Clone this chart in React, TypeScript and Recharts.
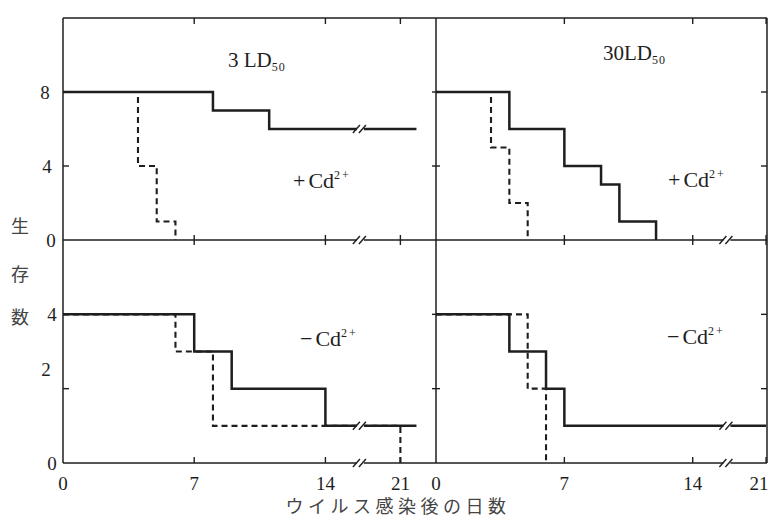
import React from 'react';
import { LineChart, Line, XAxis, YAxis, ReferenceDot } from 'recharts';

const dayTicks = [0, 7, 14, 21];
const topTicks = [0, 4, 8];
const bottomTicks = [0, 2, 4];

const ld3CdSolidDays = [0, 8, 11, 22.5];
const ld3CdSolidAlive = [8, 7, 6, 6];
const ld3CdDashDays = [0, 4, 5, 6];
const ld3CdDashAlive = [8, 4, 1, 0];

const ld30CdSolidDays = [0, 4, 7, 9, 10, 12];
const ld30CdSolidAlive = [8, 6, 4, 3, 1, 0];
const ld30CdDashDays = [0, 3, 4, 5];
const ld30CdDashAlive = [8, 5, 2, 0];

const ld3NoCdSolidDays = [0, 7, 9, 14, 22.5];
const ld3NoCdSolidAlive = [4, 3, 2, 1, 1];
const ld3NoCdDashDays = [0, 6, 8, 21];
const ld3NoCdDashAlive = [4, 3, 1, 0];

const ld30NoCdSolidDays = [0, 4, 6, 7, 21];
const ld30NoCdSolidAlive = [4, 3, 2, 1, 1];
const ld30NoCdDashDays = [0, 5, 6];
const ld30NoCdDashAlive = [4, 2, 0];

const doseLabels = ['3 LD', '30LD'];
const yTitle = ['生', '存', '数'];
const xTitle = 'ウイルス感染後の日数';

// the axis is squeezed after day 14 (broken axis)
const BREAK_FROM = 14;
const BREAK_DAY = 17.5;
const SQUEEZE = 4 / 7;
const toAxis = (d: number) => (d <= BREAK_FROM ? d : BREAK_FROM + (d - BREAK_FROM) * SQUEEZE);
const fromAxis = (v: number) => Math.round(v <= BREAK_FROM ? v : BREAK_FROM + (v - BREAK_FROM) / SQUEEZE);

type Pt = { x: number; y: number };
const pts = (days: number[], alive: number[]): Pt[] => days.map((d, i) => ({ x: toAxis(d), y: alive[i] }));

const ink = '#1e1e1e';
const serif = '"Liberation Serif", "DejaVu Serif", serif';
const jp = '"Noto Sans CJK JP", sans-serif';
const xTicks = dayTicks.map(toAxis);
const innerXTicks = xTicks.filter((v) => v > 0);

const NoTick = () => <g />;

const makeXTick = (labelY: number, maxX: number) => (props: any) => (
  <text x={Math.min(props.x, maxX)} y={labelY} dy="0.35em" textAnchor="middle" fontSize={19} fontFamily={serif} fill={ink}>
    {fromAxis(props.payload.value)}
  </text>
);

const makeYTick = (labelX: number, nudge: Record<number, [number, number]>) => (props: any) => {
  const v = props.payload.value;
  const [dx, dy] = nudge[v] || [0, 0];
  return (
    <text x={labelX + dx} y={props.y + dy} dy="0.35em" textAnchor="middle" fontSize={19} fontFamily={serif} fill={ink}>
      {v}
    </text>
  );
};

// small tick mark drawn at a data point (pixel offsets from that point)
const TickMark = (p: any) => {
  if (p.cx == null || p.cy == null) return <g />;
  const [dx1, dy1, dx2, dy2] = p.seg as number[];
  return <line x1={p.cx + dx1} y1={p.cy + dy1} x2={p.cx + dx2} y2={p.cy + dy2} stroke={ink} strokeWidth={1.4} />;
};

const BreakMark = (props: any) => {
  const { cx, cy } = props;
  if (cx == null || cy == null) return <g />;
  return (
    <g>
      <rect x={cx - 6} y={cy - 2.5} width={7} height={5} fill="#fff" />
      <line x1={cx - 10} y1={cy + 4} x2={cx - 3} y2={cy - 4} stroke={ink} strokeWidth={1.4} />
      <line x1={cx - 4} y1={cy + 4} x2={cx + 3} y2={cy - 4} stroke={ink} strokeWidth={1.4} />
    </g>
  );
};

interface PanelProps {
  left: number;
  top: number;
  width: number;
  height: number;
  margin: { top: number; right: number; bottom: number; left: number };
  xMax: number;
  yMax: number;
  yTicks: number[];
  solid: Pt[];
  dashed: Pt[];
  breakLevels: number[];
  isTop: boolean;
  isLeft: boolean;
  yNudge?: Record<number, [number, number]>;
}

const Panel: React.FC<PanelProps> = ({
  left, top, width, height, margin, xMax, yMax, yTicks, solid, dashed, breakLevels, isTop, isLeft, yNudge,
}) => {
  const innerYTicks = yTicks.filter((v) => v > 0);
  const marks: { x: number; y: number; seg: number[] }[] = [];
  innerXTicks.forEach((x) => {
    if (isTop) {
      marks.push({ x, y: yMax, seg: [0, 0, 0, 6] });
      marks.push({ x, y: 0, seg: [0, -5, 0, 5] });
    } else {
      marks.push({ x, y: 0, seg: [0, 0, 0, -6] });
    }
  });
  innerYTicks.forEach((y) => {
    if (isLeft) {
      marks.push({ x: 0, y, seg: [0, 0, 6, 0] });
      marks.push({ x: xMax, y, seg: [-4, 0, 4, 0] });
    } else {
      marks.push({ x: xMax, y, seg: [-6, 0, 0, 0] });
    }
  });

  return (
    <div style={{ position: 'absolute', left, top, width, height }}>
      <LineChart width={width} height={height} margin={margin}>
        <XAxis
          xAxisId="b" orientation="bottom" type="number" dataKey="x" domain={[0, xMax]} allowDataOverflow
          ticks={xTicks} interval={0} height={1} stroke={ink} strokeWidth={1.5} tickLine={false}
          tick={isTop ? NoTick : makeXTick(height - margin.bottom + 19, width - 9)}
        />
        <XAxis
          xAxisId="t" orientation="top" type="number" domain={[0, xMax]} allowDataOverflow
          ticks={xTicks} height={1} stroke={ink} strokeWidth={1.5} axisLine={isTop} tickLine={false} tick={NoTick}
        />
        <YAxis
          yAxisId="l" orientation="left" type="number" domain={[0, yMax]} allowDataOverflow
          ticks={yTicks} interval={0} width={1} stroke={ink} strokeWidth={1.5} axisLine={isLeft} tickLine={false}
          tick={isLeft ? makeYTick(margin.left - 13, yNudge || {}) : NoTick}
        />
        <YAxis
          yAxisId="r" orientation="right" type="number" domain={[0, yMax]} allowDataOverflow
          ticks={yTicks} width={1} stroke={ink} strokeWidth={1.5} tickLine={false} tick={NoTick}
        />
        <Line
          xAxisId="b" yAxisId="l" data={dashed} dataKey="y" type="stepAfter" stroke={ink} strokeWidth={2.1}
          strokeDasharray="6 4" dot={false} activeDot={false} isAnimationActive={false}
        />
        <Line
          xAxisId="b" yAxisId="l" data={solid} dataKey="y" type="stepAfter" stroke={ink} strokeWidth={2.5}
          dot={false} activeDot={false} isAnimationActive={false}
        />
        {marks.map((m, i) => (
          <ReferenceDot
            key={`m${i}`} xAxisId="b" yAxisId="l" x={m.x} y={m.y} r={1} ifOverflow="visible"
            shape={(p: any) => <TickMark {...p} seg={m.seg} />}
          />
        ))}
        {breakLevels.map((v) => (
          <ReferenceDot key={`b${v}`} xAxisId="b" yAxisId="l" x={toAxis(BREAK_DAY)} y={v} r={1} ifOverflow="visible" shape={BreakMark} />
        ))}
      </LineChart>
    </div>
  );
};

const DoseLabel = ({ x, y, text }: { x: number; y: number; text: string }) => (
  <text x={x} y={y} fontSize={21} fontFamily={serif} fill={ink}>
    {text}
    <tspan fontSize={12} dy={4} letterSpacing={1}>50</tspan>
  </text>
);

const CdLabel = ({ x, y, sign }: { x: number; y: number; sign: string }) => (
  <text x={x} y={y} fontSize={22} fontFamily={serif} fill={ink}>
    {sign}
    <tspan dx={3}>Cd</tspan>
    <tspan fontSize={12} dy={-9} letterSpacing={2}>2+</tspan>
  </text>
);

const App: React.FC = () => (
  <div style={{ position: 'absolute', left: 0, top: 0, width: 768, height: 520, background: '#fff', overflow: 'hidden' }}>
    <Panel
      left={0} top={0} width={446} height={252} margin={{ top: 17, right: 9, bottom: 11, left: 62 }}
      xMax={19.9} yMax={12} yTicks={topTicks} isTop isLeft
      solid={pts(ld3CdSolidDays, ld3CdSolidAlive)} dashed={pts(ld3CdDashDays, ld3CdDashAlive)}
      breakLevels={[0, 6]} yNudge={{ 8: [-4, 0], 4: [-2, 0], 0: [2, 0] }}
    />
    <Panel
      left={426} top={0} width={342} height={252} margin={{ top: 17, right: 0, bottom: 11, left: 9 }}
      xMax={18.05} yMax={12} yTicks={topTicks} isTop isLeft={false}
      solid={pts(ld30CdSolidDays, ld30CdSolidAlive)} dashed={pts(ld30CdDashDays, ld30CdDashAlive)}
      breakLevels={[0]}
    />
    <Panel
      left={0} top={228} width={446} height={292} margin={{ top: 11, right: 9, bottom: 56, left: 62 }}
      xMax={19.9} yMax={6} yTicks={bottomTicks} isTop={false} isLeft
      solid={pts(ld3NoCdSolidDays, ld3NoCdSolidAlive)} dashed={pts(ld3NoCdDashDays, ld3NoCdDashAlive)}
      breakLevels={[0, 1]} yNudge={{ 4: [3, 0], 2: [-3, -19], 0: [3, 0] }}
    />
    <Panel
      left={426} top={228} width={342} height={292} margin={{ top: 11, right: 0, bottom: 56, left: 9 }}
      xMax={18.05} yMax={6} yTicks={bottomTicks} isTop={false} isLeft={false}
      solid={pts(ld30NoCdSolidDays, ld30NoCdSolidAlive)} dashed={pts(ld30NoCdDashDays, ld30NoCdDashAlive)}
      breakLevels={[0, 1]}
    />
    <svg width={768} height={520} style={{ position: 'absolute', left: 0, top: 0, pointerEvents: 'none' }}>
      {yTitle.map((c, i) => (
        <text key={c} x={20} y={[227, 275, 318][i]} dy="0.35em" textAnchor="middle" fontSize={18} fontFamily={jp} fill="#444">
          {c}
        </text>
      ))}
      <text x={398} y={507} dy="0.35em" textAnchor="middle" fontSize={18} letterSpacing={4.5} fontFamily={jp} fill="#444">
        {xTitle}
      </text>
      <DoseLabel x={228} y={67} text={doseLabels[0]} />
      <DoseLabel x={603} y={60} text={doseLabels[1]} />
      <CdLabel x={293} y={188} sign="+" />
      <CdLabel x={668} y={187} sign="+" />
      <CdLabel x={300} y={346} sign="−" />
      <CdLabel x={667} y={344} sign="−" />
    </svg>
  </div>
);

export default App;
